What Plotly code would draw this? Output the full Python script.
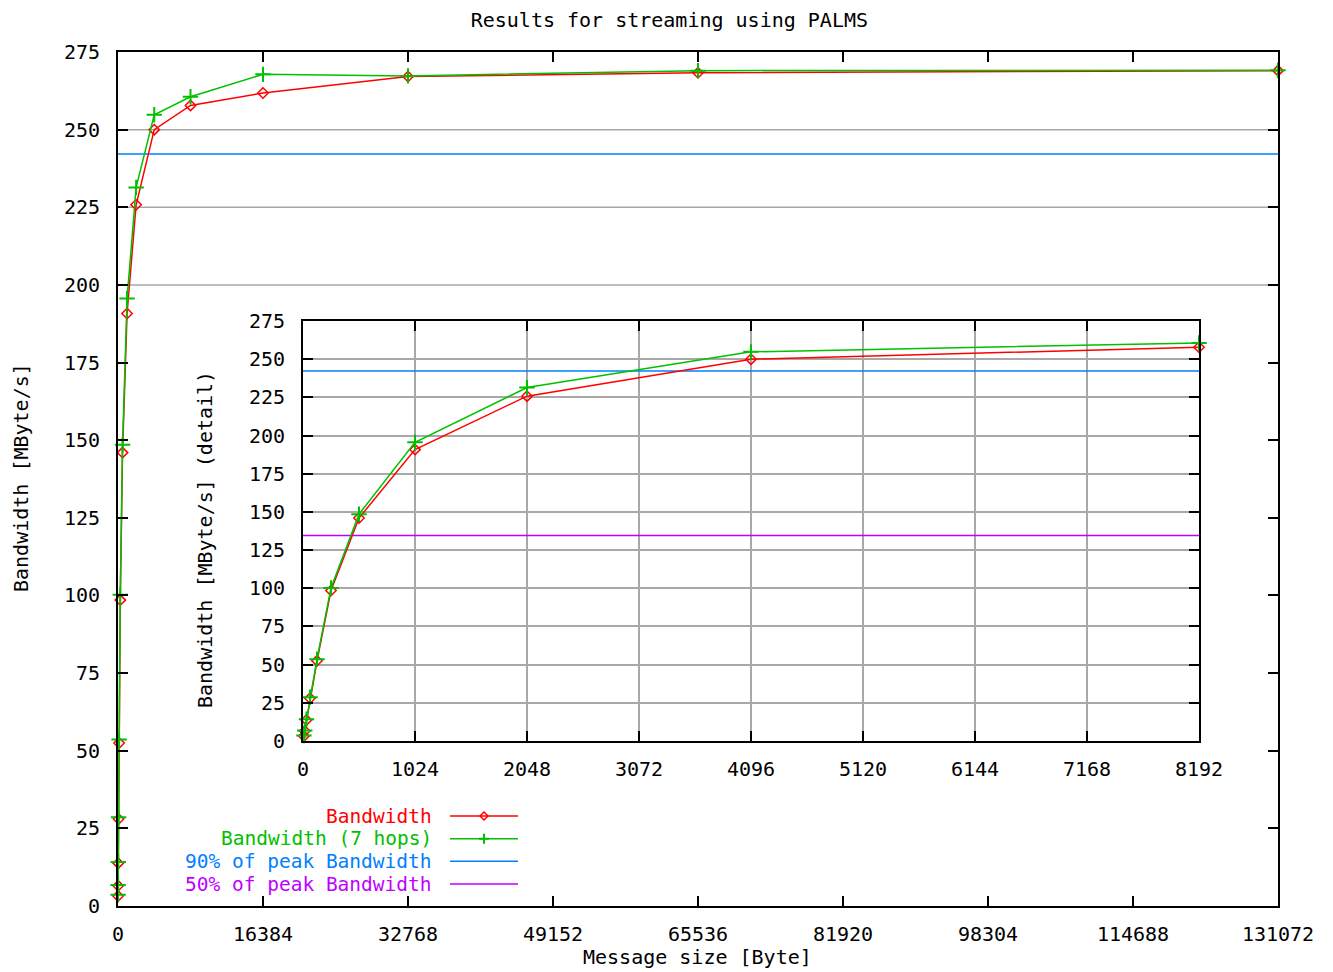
import plotly.graph_objects as go

# ---------------- data ----------------
sizes = [8, 16, 32, 64, 128, 256, 512, 1024, 2048, 4096, 8192, 16384, 32768, 65536, 131072]
bw = [3.2, 6.5, 13.8, 28.0, 52.5, 98.5, 146.0, 190.8, 225.8, 250.0, 257.8, 261.8, 267.1, 268.3, 269.0]
bw_7hops = [3.6, 6.8, 14.2, 28.6, 53.6, 100.2, 148.5, 195.6, 231.4, 254.8, 260.6, 267.8, 267.3, 269.0, 269.1]

main_xticks = [0, 16384, 32768, 49152, 65536, 81920, 98304, 114688, 131072]
detail_xticks = [0, 1024, 2048, 3072, 4096, 5120, 6144, 7168, 8192]
yticks = [0, 25, 50, 75, 100, 125, 150, 175, 200, 225, 250, 275]
main_grid_levels = [200, 225, 250]

title_text = "Results for streaming using PALMS"
xlabel = "Message size [Byte]"
ylabel = "Bandwidth [MByte/s]"
ylabel_detail = "Bandwidth [MByte/s] (detail)"
legend_names = ["Bandwidth", "Bandwidth (7 hops)", "90% of peak Bandwidth", "50% of peak Bandwidth"]

peak = max(bw_7hops)
peak90 = 0.9 * peak
peak50 = 0.5 * peak

# ---------------- style ----------------
RED = "#ff0000"
GREEN = "#00c000"
BLUE = "#0080ff"
PURPLE = "#c000ff"
GRID = "#a8a8a8"
FONT = "DejaVu Sans Mono"
FS = 20
FS_KEY = 19.5

OFF = 8  # page body margin
W, H = 1325, 964
ML, MR, MT, MB = 110, 55, 44, 66
PW, PH = W - ML - MR, H - MT - MB


def px(x):
    """page pixel x -> paper x"""
    return (x - OFF - ML) / PW


def py(y):
    """page pixel y -> paper y"""
    return (H - MB - (y - OFF)) / PH


detail_limit = detail_xticks[-1]
d_sizes = [s for s in sizes if s <= detail_limit]
d_bw = bw[:len(d_sizes)]
d_bw7 = bw_7hops[:len(d_sizes)]

red_marker = dict(symbol="diamond-open", size=8, color=RED, line=dict(width=1.5, color=RED))
green_marker = dict(symbol="cross-thin", size=11, color=GREEN, line=dict(width=2, color=GREEN))

fig = go.Figure()

# main chart
fig.add_trace(go.Scatter(x=[0, sizes[-1]], y=[peak90, peak90], mode="lines",
                         line=dict(color=BLUE, width=1.5), xaxis="x", yaxis="y",
                         showlegend=False, hoverinfo="skip"))
fig.add_trace(go.Scatter(x=sizes, y=bw, mode="lines+markers", line=dict(color=RED, width=1.5),
                         marker=red_marker, xaxis="x", yaxis="y", showlegend=False, cliponaxis=False))
fig.add_trace(go.Scatter(x=sizes, y=bw_7hops, mode="lines+markers", line=dict(color=GREEN, width=1.5),
                         marker=green_marker, xaxis="x", yaxis="y", showlegend=False, cliponaxis=False))

# detail inset
fig.add_trace(go.Scatter(x=[0, detail_limit], y=[peak90, peak90], mode="lines",
                         line=dict(color=BLUE, width=1.5), xaxis="x2", yaxis="y2",
                         showlegend=False, hoverinfo="skip"))
fig.add_trace(go.Scatter(x=[0, detail_limit], y=[peak50, peak50], mode="lines",
                         line=dict(color=PURPLE, width=1.5), xaxis="x2", yaxis="y2",
                         showlegend=False, hoverinfo="skip"))
fig.add_trace(go.Scatter(x=d_sizes, y=d_bw, mode="lines+markers", line=dict(color=RED, width=1.5),
                         marker=red_marker, xaxis="x2", yaxis="y2", showlegend=False, cliponaxis=False))
fig.add_trace(go.Scatter(x=d_sizes, y=d_bw7, mode="lines+markers", line=dict(color=GREEN, width=1.5),
                         marker=green_marker, xaxis="x2", yaxis="y2", showlegend=False, cliponaxis=False))

axis_common = dict(showline=True, linecolor="black", linewidth=2, mirror="ticks",
                   ticks="inside", ticklen=10, tickwidth=1.5, tickcolor="black",
                   tickfont=dict(family=FONT, size=FS, color="black"),
                   tickformat="d", zeroline=False)

fig.update_layout(
    width=W, height=H,
    margin=dict(l=ML, r=MR, t=MT, b=MB),
    paper_bgcolor="white", plot_bgcolor="white",
    showlegend=False,
    title=dict(text=title_text, x=px(697), xanchor="center", y=1 - (20 - OFF) / H, yanchor="middle",
               font=dict(family=FONT, size=FS, color="black")),
    xaxis=dict(domain=[0, 1], range=[0, sizes[-1]], tickvals=main_xticks, anchor="y",
               showgrid=False, ticklabelstandoff=9, **axis_common),
    yaxis=dict(domain=[0, 1], range=[0, 275], tickvals=yticks, anchor="x",
               showgrid=False, ticklabelstandoff=12, **axis_common),
    xaxis2=dict(domain=[px(303), px(1199)], range=[0, detail_limit], tickvals=detail_xticks, anchor="y2",
                showgrid=True, gridcolor=GRID, gridwidth=1.5, ticklabelstandoff=9, **axis_common),
    yaxis2=dict(domain=[py(741), py(321)], range=[0, 275], tickvals=yticks, anchor="x2",
                showgrid=True, gridcolor=GRID, gridwidth=1.5, ticklabelstandoff=12, **axis_common),
)

shapes = []
for g in main_grid_levels:
    shapes.append(dict(type="line", xref="x", yref="y", x0=0, x1=sizes[-1], y0=g, y1=g,
                       line=dict(color=GRID, width=1.5), layer="below"))

annotations = [
    dict(text=xlabel, x=px(697), y=py(957), xref="paper", yref="paper", showarrow=False,
         xanchor="center", yanchor="middle", font=dict(family=FONT, size=FS, color="black")),
    dict(text=ylabel, x=px(21), y=py(478), xref="paper", yref="paper", showarrow=False, textangle=-90,
         xanchor="center", yanchor="middle", font=dict(family=FONT, size=FS, color="black")),
    dict(text=ylabel_detail, x=px(205), y=py(540), xref="paper", yref="paper", showarrow=False, textangle=-90,
         xanchor="center", yanchor="middle", font=dict(family=FONT, size=FS, color="black")),
]

# key drawn as text + line samples (text right-aligned, sample on the right)
leg_colors = [RED, GREEN, BLUE, PURPLE]
leg_rows = [816, 838.7, 861.3, 884]
for name, col, row in zip(legend_names, leg_colors, leg_rows):
    annotations.append(dict(text=name, x=px(433), y=py(row), xref="paper", yref="paper", showarrow=False,
                            xanchor="right", yanchor="middle", borderpad=0,
                            font=dict(family=FONT, size=FS_KEY, color=col)))
    shapes.append(dict(type="line", xref="paper", yref="paper", x0=px(450), x1=px(518), y0=py(row), y1=py(row),
                       line=dict(color=col, width=1.5)))

shapes.append(dict(type="path", xref="paper", yref="paper", xsizemode="pixel", ysizemode="pixel",
                   xanchor=px(484), yanchor=py(leg_rows[0]), path="M -4 0 L 0 4 L 4 0 L 0 -4 Z",
                   line=dict(color=RED, width=1.5)))
shapes.append(dict(type="path", xref="paper", yref="paper", xsizemode="pixel", ysizemode="pixel",
                   xanchor=px(484), yanchor=py(leg_rows[1]), path="M -5 0 L 5 0 M 0 -5 L 0 5",
                   line=dict(color=GREEN, width=2)))

fig.update_layout(shapes=shapes, annotations=annotations)

fig.write_html("out.html")
